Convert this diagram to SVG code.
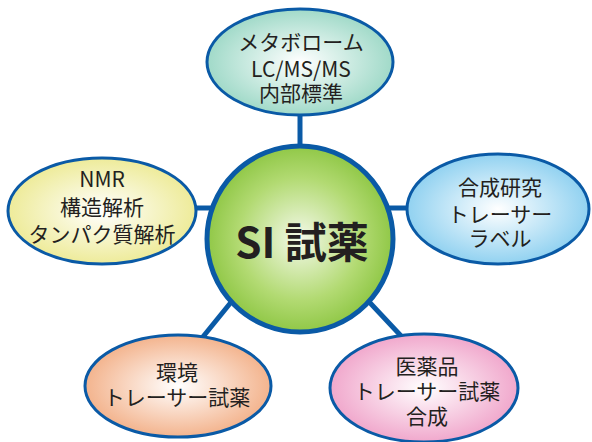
<svg xmlns="http://www.w3.org/2000/svg" width="592" height="442" viewBox="0 0 592 442">
<defs>
<radialGradient id="gTop" cx="50%" cy="50%" r="55%"><stop offset="0" stop-color="#ffffff"/><stop offset="1" stop-color="#97d6c3"/></radialGradient>
<radialGradient id="gLeft" cx="50%" cy="50%" r="55%"><stop offset="0" stop-color="#ffffff"/><stop offset="1" stop-color="#ece98f"/></radialGradient>
<radialGradient id="gRight" cx="50%" cy="50%" r="55%"><stop offset="0" stop-color="#ffffff"/><stop offset="1" stop-color="#86cdef"/></radialGradient>
<radialGradient id="gBL" cx="50%" cy="50%" r="55%"><stop offset="0" stop-color="#ffffff"/><stop offset="1" stop-color="#f2ac82"/></radialGradient>
<radialGradient id="gBR" cx="50%" cy="50%" r="55%"><stop offset="0" stop-color="#ffffff"/><stop offset="1" stop-color="#ef9fc7"/></radialGradient>
<radialGradient id="gC" cx="50%" cy="50%" r="55%"><stop offset="0" stop-color="#f4f9ea"/><stop offset="0.6" stop-color="#b2da72"/><stop offset="1" stop-color="#86c23a"/></radialGradient>
</defs>
<style>
.conn{stroke:#0a5aa6;stroke-width:5;fill:none}
.el{stroke:#0a5aa6;stroke-width:3}
.t{font-family:"Noto Sans CJK JP","Noto Sans",sans-serif;font-size:21px;fill:#231f20;text-anchor:middle}
.c{font-family:"Noto Sans CJK JP","Noto Sans",sans-serif;font-size:42px;font-weight:bold;fill:#231f20;text-anchor:middle}
</style>
<g id="connectors">
<line class="conn" x1="300" y1="112" x2="300" y2="150"/>
<line class="conn" x1="192" y1="208" x2="215" y2="208"/>
<line class="conn" x1="385" y1="208" x2="410" y2="208"/>
<line class="conn" x1="202" y1="338" x2="245" y2="285"/>
<line class="conn" x1="403" y1="338" x2="358" y2="290"/>
</g>
<g id="center">
<circle cx="300" cy="239" r="93" fill="url(#gC)" stroke="#0a5aa6" stroke-width="5"/>
<text class="c" x="302" y="258">SI 試薬</text>
</g>
<g id="top">
<ellipse class="el" cx="300" cy="62" rx="93" ry="53" fill="url(#gTop)"/>
<text class="t" x="301" y="50">メタボローム</text>
<text class="t" x="301" y="77">LC/MS/MS</text>
<text class="t" x="301" y="101">内部標準</text>
</g>
<g id="left">
<ellipse class="el" cx="102" cy="211" rx="94" ry="53" fill="url(#gLeft)"/>
<text class="t" x="102" y="187">NMR</text>
<text class="t" x="102" y="215">構造解析</text>
<text class="t" x="102" y="242">タンパク質解析</text>
</g>
<g id="right">
<ellipse class="el" cx="498" cy="209" rx="91" ry="55" fill="url(#gRight)"/>
<text class="t" x="500" y="195">合成研究</text>
<text class="t" x="500" y="222">トレーサー</text>
<text class="t" x="500" y="246">ラベル</text>
</g>
<g id="bottomleft">
<ellipse class="el" cx="178" cy="386" rx="93" ry="51" fill="url(#gBL)"/>
<text class="t" x="177" y="380">環境</text>
<text class="t" x="177" y="405">トレーサー試薬</text>
</g>
<g id="bottomright">
<ellipse class="el" cx="424" cy="388" rx="94" ry="54" fill="url(#gBR)"/>
<text class="t" x="427" y="374">医薬品</text>
<text class="t" x="427" y="399">トレーサー試薬</text>
<text class="t" x="427" y="424">合成</text>
</g>
</svg>
